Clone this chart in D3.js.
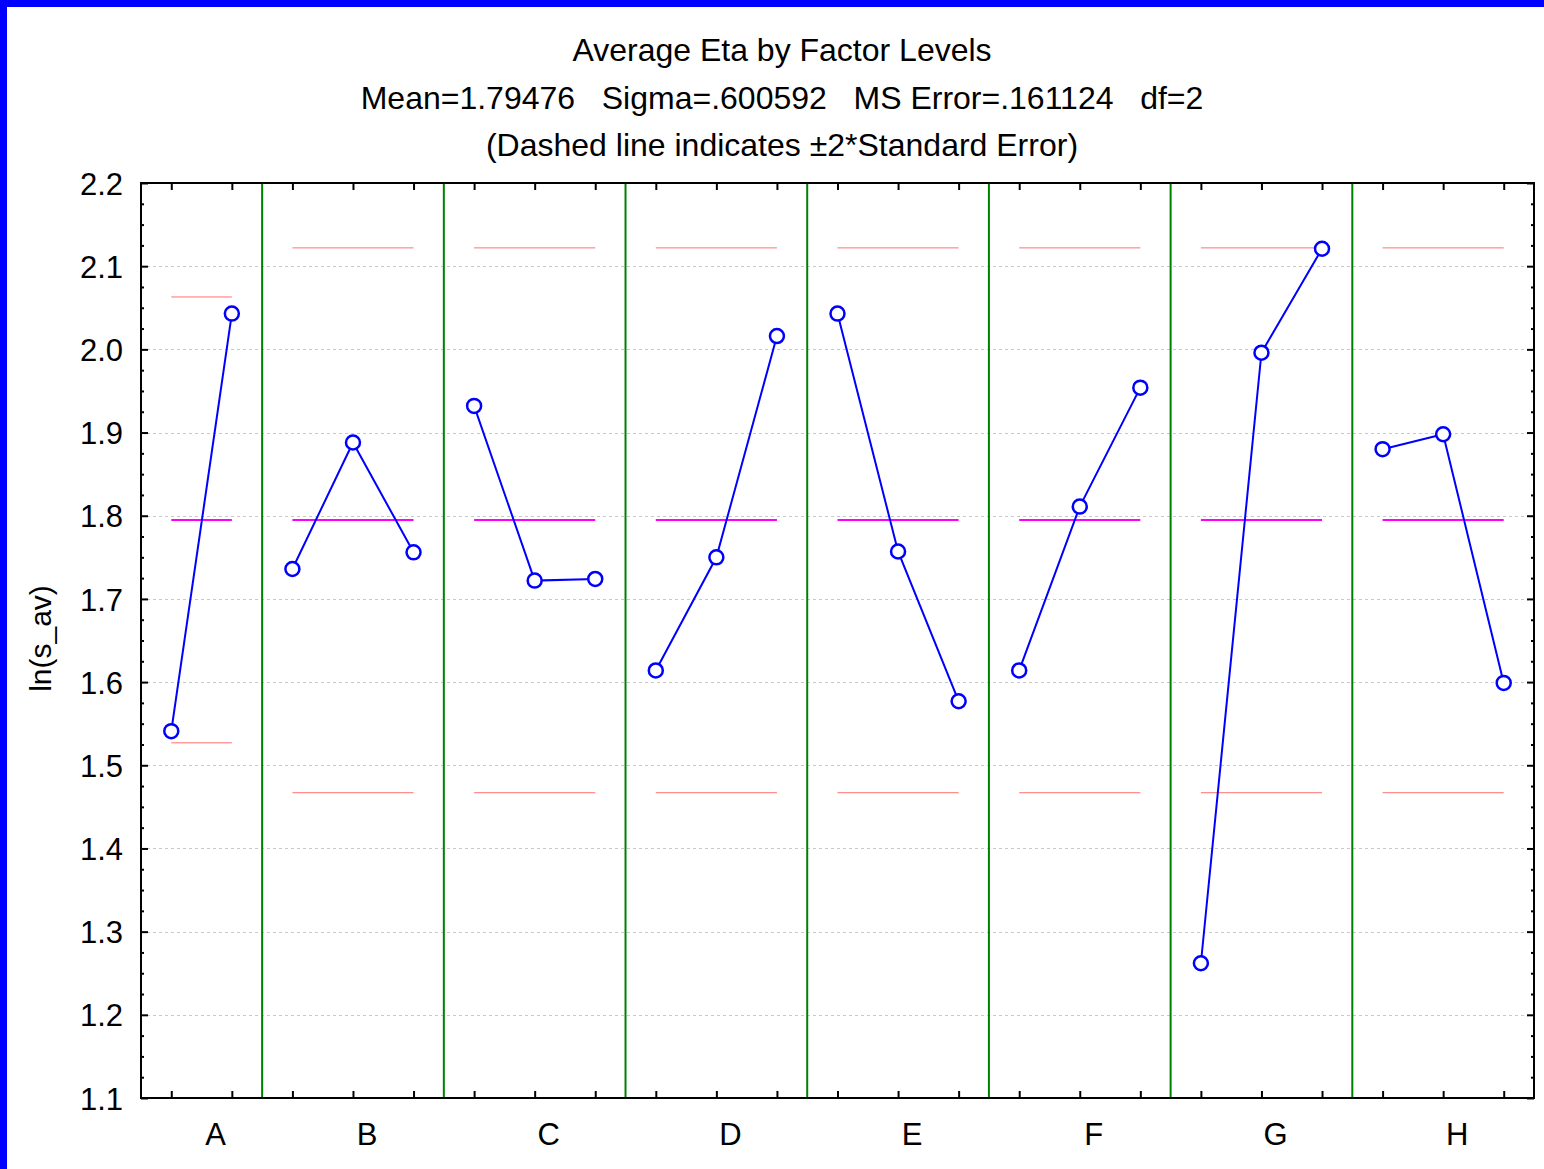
<!DOCTYPE html>
<html>
<head>
<meta charset="utf-8">
<script src="https://cdn.jsdelivr.net/npm/d3@7"></script>
<style>
  html, body { margin: 0; padding: 0; background: #fff; }
  svg text { font-family: "Liberation Sans", Arial, sans-serif; fill: #000; }
</style>
</head>
<body>
<div id="wrapper"></div>
<script>
// Data
const factors = ["A", "B", "C", "D", "E", "F", "G", "H"]
const levelMeans = [
    [1.541, 2.043],
    [1.736, 1.888, 1.756],
    [1.932, 1.722, 1.724],
    [1.614, 1.750, 2.016],
    [2.043, 1.757, 1.577],
    [1.614, 1.811, 1.954],
    [1.262, 1.996, 2.121],
    [1.880, 1.898, 1.599],
]
const grandMean = 1.79476
const upperLimits = [2.063, 2.122, 2.122, 2.122, 2.122, 2.122, 2.122, 2.122]
const lowerLimits = [1.527, 1.467, 1.467, 1.467, 1.467, 1.467, 1.467, 1.467]
const yTicks = [1.1, 1.2, 1.3, 1.4, 1.5, 1.6, 1.7, 1.8, 1.9, 2.0, 2.1, 2.2]
const titleLines = [
    "Average Eta by Factor Levels",
    "Mean=1.79476\u00a0\u00a0\u00a0Sigma=.600592\u00a0\u00a0\u00a0MS Error=.161124\u00a0\u00a0\u00a0df=2",
    "(Dashed line indicates \u00b12*Standard Error)",
]
const yLabel = "ln(s_av)"

// Dimensions
const width = 1544, height = 1169
const margin = { top: 183, right: 10, bottom: 71, left: 141 }
const plotW = width - margin.left - margin.right
const plotH = height - margin.top - margin.bottom

const svg = d3.select("#wrapper").append("svg")
    .attr("width", width)
    .attr("height", height)
    .style("display", "block")

// blue frame on top and left
svg.append("rect").attr("x", 0).attr("y", 0).attr("width", width).attr("height", 7).attr("fill", "#0000ff")
svg.append("rect").attr("x", 0).attr("y", 0).attr("width", 7).attr("height", height).attr("fill", "#0000ff")

// slot layout: each factor level gets one slot
const starts = []
let total = 0
levelMeans.forEach(l => { starts.push(total); total += l.length })

const x = d3.scaleLinear().domain([0, total]).range([0, plotW])
const y = d3.scaleLinear().domain([1.1, 2.2]).range([plotH, 0])

const g = svg.append("g").attr("transform", `translate(${margin.left},${margin.top})`)

// grid
g.selectAll(".grid").data(yTicks.slice(1, -1)).join("line")
    .attr("x1", 0).attr("x2", plotW)
    .attr("y1", d => Math.round(y(d)) + 0.5).attr("y2", d => Math.round(y(d)) + 0.5)
    .attr("stroke", "#c8c8c8").attr("stroke-width", 1)
    .attr("stroke-dasharray", "3,3")

// separators
g.selectAll(".sep").data(starts.slice(1)).join("line")
    .attr("x1", d => x(d)).attr("x2", d => x(d))
    .attr("y1", 0).attr("y2", plotH)
    .attr("stroke", "#008000").attr("stroke-width", 2)

// axes (ticks inside)
const slotCenters = d3.range(total).map(i => i + 0.5)
const minorTicks = d3.range(1.1, 2.2001, 0.025).filter(v => Math.abs(v * 10 - Math.round(v * 10)) > 0.01)

function styleAxis(sel) {
    sel.select(".domain").remove()
    sel.selectAll(".tick line").attr("stroke", "#000").attr("stroke-width", 2)
}
g.append("g").call(d3.axisLeft(y).tickValues(yTicks).tickSize(-7).tickPadding(18).tickFormat(d3.format(".1f")))
    .call(styleAxis)
    .call(s => s.selectAll("text").style("font-size", "31px").attr("dy", "0.36em"))
g.append("g").call(d3.axisLeft(y).tickValues(minorTicks).tickSize(-3).tickFormat(""))
    .call(styleAxis)
g.append("g").attr("transform", `translate(${plotW},0)`)
    .call(d3.axisRight(y).tickValues(yTicks).tickSize(-7).tickFormat(""))
    .call(styleAxis)
g.append("g").attr("transform", `translate(${plotW},0)`)
    .call(d3.axisRight(y).tickValues(minorTicks).tickSize(-3).tickFormat(""))
    .call(styleAxis)
g.append("g").call(d3.axisTop(x).tickValues(slotCenters).tickSize(-7).tickFormat(""))
    .call(styleAxis)
g.append("g").attr("transform", `translate(0,${plotH})`)
    .call(d3.axisBottom(x).tickValues(slotCenters).tickSize(-7).tickFormat(""))
    .call(styleAxis)

// frame
g.append("rect").attr("x", 0).attr("y", 0).attr("width", plotW).attr("height", plotH)
    .attr("fill", "none").attr("stroke", "#000").attr("stroke-width", 2)

// factor labels
g.selectAll(".flab").data(factors).join("text")
    .attr("x", (d, i) => x(starts[i] + levelMeans[i].length / 2) + 14)
    .attr("y", plotH + 47)
    .attr("text-anchor", "middle")
    .style("font-size", "31px")
    .text(d => d)

// per factor marks
levelMeans.forEach((vals, i) => {
    const x0 = x(starts[i] + 0.5), x1 = x(starts[i] + vals.length - 0.5)
    g.append("line").attr("x1", x0).attr("x2", x1)
        .attr("y1", y(upperLimits[i])).attr("y2", y(upperLimits[i]))
        .attr("stroke", "#ff7070").attr("stroke-width", 1)
    g.append("line").attr("x1", x0).attr("x2", x1)
        .attr("y1", y(lowerLimits[i])).attr("y2", y(lowerLimits[i]))
        .attr("stroke", "#ff7070").attr("stroke-width", 1)
    g.append("line").attr("x1", x0).attr("x2", x1)
        .attr("y1", y(grandMean)).attr("y2", y(grandMean))
        .attr("stroke", "#ff00ff").attr("stroke-width", 2)

    const pts = vals.map((v, j) => [x(starts[i] + j + 0.5), y(v)])
    g.append("path").attr("d", d3.line()(pts))
        .attr("fill", "none").attr("stroke", "#0000ff").attr("stroke-width", 2)
    g.selectAll(null).data(pts).join("circle")
        .attr("cx", d => d[0]).attr("cy", d => d[1]).attr("r", 7)
        .attr("fill", "#fff").attr("stroke", "#0000ff").attr("stroke-width", 2.5)
})

// titles
svg.selectAll(".title").data(titleLines).join("text")
    .attr("x", 782)
    .attr("y", (d, i) => 61 + i * 47.5)
    .attr("text-anchor", "middle")
    .style("font-size", "32px")
    .text(d => d)

// y label
svg.append("text")
    .attr("transform", `translate(51,${margin.top + plotH / 2 - 2}) rotate(-90)`)
    .attr("text-anchor", "middle")
    .style("font-size", "30px")
    .text(yLabel)
</script>
</body>
</html>
